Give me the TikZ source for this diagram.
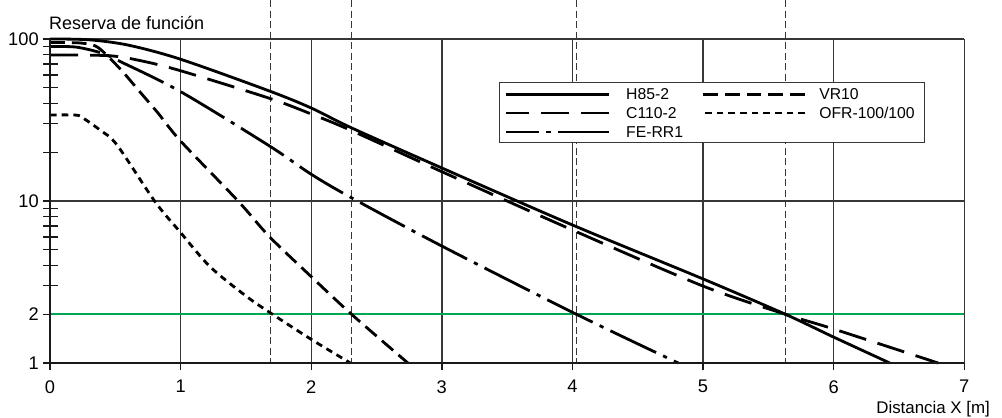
\documentclass[tikz,border=0pt]{standalone}
\usepackage{fontspec}
\setmainfont{Liberation Sans}
\usetikzlibrary{positioning}
\definecolor{verde}{RGB}{0,166,81}
\definecolor{grigio}{RGB}{55,55,55}

\begin{document}
\begin{tikzpicture}[x=3.265cm, y=4.05cm, font=\fontsize{12}{14}\selectfont,
    curva/.style = {line width=2pt, black},
    h85/.style = {curva},
    c110/.style = {curva, dash pattern=on 20pt off 8.5pt},
    ferr/.style = {curva, dash pattern=on 36pt off 5.5pt on 3pt off 5.5pt},
    vr10/.style = {curva, dash pattern=on 10.5pt off 5pt},
    ofr/.style = {curva, dash pattern=on 4.7pt off 3.6pt},
    rejilla/.style = {grigio, line width=1pt},
    eje/.style = {black!90, line width=2pt},
    limite/.style = {grigio, line width=0.7pt, dash pattern=on 5pt off 2.5pt},
    etiq/.style = {inner sep=0pt},
    numero/.style = {etiq, font=\fontsize{13}{15}\selectfont},
    leyenda/.style = {etiq, font=\fontsize{11.2}{13}\selectfont}]
    \useasboundingbox (-0.38285,-0.33333) rectangle (7.2894,2.24074);

    % Rejilla y ticks
    \foreach \x in {1,...,7} \draw[rejilla] (\x,0) -- (\x,2);
    \draw[rejilla] (0,2) -- (7,2);
    \draw[rejilla] (0,1) -- (7,1);
    \draw[verde, line width=1.2pt] (0,0.30103) -- (7,0.30103);
    \foreach \x in {0,...,7} {
        \draw[eje, line width=1pt] (\x,0) -- ++(0,-0.175cm);
        \node[numero, anchor=north] (x\x) at ([yshift=-0.425cm]\x,0) {\x};
    }
    \foreach \v/\t in {0/1, 0.30103/2, 1/10, 2/100} {
        \draw[eje, line width=1pt] (0,\v) -- ++(-0.175cm,0);
        \node[numero, anchor=east] (y\t) at ([xshift=-0.275cm]0,\v) {\t};
    }
    \foreach \v in {3,...,9} {
        \draw[eje, line width=1pt] ([xshift=-0.175cm]0,{log10(\v)}) -- ++(0.375cm,0);
        \draw[eje, line width=1pt] ([xshift=-0.175cm]0,{log10(\v)+1}) -- ++(0.375cm,0);
    }
    \draw[eje, line width=1pt] ([xshift=-0.175cm]0,1.30103) -- ++(0.375cm,0);

    % Limites
    \foreach \x in {1.692,2.31,4.028,5.628} \draw[limite] (\x,2.24074) -- (\x,0);

    % Curvas
    \draw[h85] plot[smooth, tension=0.5] coordinates {(0,2) (0.3,1.995) (0.6,1.962)
        (1.0,1.875) (1.68,1.679) (2.0,1.574) (2.31,1.451) (3.0,1.204) (4.0,0.852)
        (5.0,0.519) (5.63,0.301) (6.0,0.16) (6.43,0)};
    \draw[c110] plot[smooth, tension=0.5] coordinates {(0,1.901) (0.45,1.897) (0.7,1.865)
        (1.0,1.804) (1.68,1.634) (2.0,1.537) (2.31,1.434) (3.0,1.181) (4.0,0.821)
        (5.0,0.475) (5.63,0.301) (6.0,0.21) (6.8,0)};
    \draw[ferr] plot[smooth, tension=0.5] coordinates {(0,1.953) (0.2,1.95) (0.4,1.912)
        (0.54,1.86) (1.0,1.675) (1.68,1.34) (2.0,1.165) (2.31,1.019) (3.0,0.722)
        (4.03,0.301) (4.81,0)};
    \draw[vr10] plot[smooth, tension=0.5] coordinates {(0,1.978) (0.22,1.976) (0.345,1.958)
        (0.434,1.901) (0.559,1.796) (0.689,1.673) (0.827,1.543) (1.0,1.37) (1.44,1.0)
        (1.68,0.78) (2.0,0.533) (2.31,0.30) (2.74,0)};
    \draw[ofr] plot[smooth, tension=0.5] coordinates {(0,1.531) (0.2,1.53) (0.253,1.512)
        (0.383,1.438) (0.513,1.346) (0.804,0.996) (0.995,0.81) (1.225,0.595)
        (1.508,0.409) (1.692,0.307) (2.0,0.146) (2.30,0)};

    % Ejes
    \draw[eje] (0,2) -- (0,0) -- (7,0);
    \node[etiq, anchor=base west, font=\fontsize{12.8}{15}\selectfont] (titulo) at (-0.008,2.0599) {Reserva de función};
    \node[etiq, anchor=base east] (xlab) at (7.198,-0.3105) {Distancia X [m]};

    % Leyenda
    \node[draw=grigio, line width=0.8pt, fill=white, anchor=south west, minimum width=10.625cm,
        minimum height=1.5cm, inner sep=0pt] (leyenda) at (3.438,1.358) {};
    \node[leyenda, anchor=west] (lh85) at (4.41,1.659) {H85-2};
    \node[leyenda, anchor=west] (lc110) at (4.41,1.543) {C110-2};
    \node[leyenda, anchor=west] (lferr) at (4.41,1.426) {FE-RR1};
    \node[leyenda, anchor=west] (lvr10) at (5.888,1.659) {VR10};
    \node[leyenda, anchor=west] (lofr) at (5.888,1.543) {OFR-100/100};
    \draw[h85] ([xshift=-0.425cm]lh85.west) -- ++(-2.575cm,0);
    \draw[c110] ([xshift=-0.425cm]lc110.west) -- ++(-2.575cm,0);
    \draw[ferr] ([xshift=-0.425cm]lferr.west) -- ++(-2.575cm,0);
    \draw[vr10] ([xshift=-0.35cm]lvr10.west) -- ++(-2.625cm,0);
    \draw[ofr] ([xshift=-0.35cm]lofr.west) -- ++(-2.625cm,0);
\end{tikzpicture}
\end{document}
